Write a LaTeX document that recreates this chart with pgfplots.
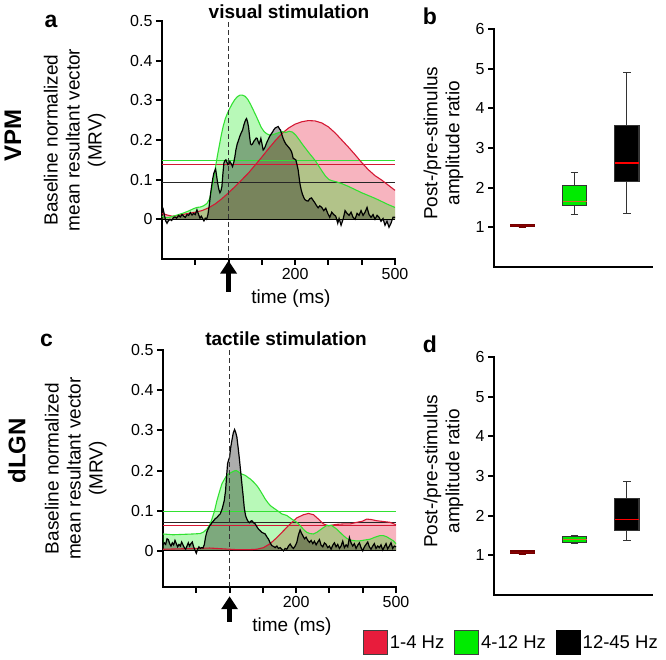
\documentclass[border=0pt]{standalone}
\usepackage{fontspec}
\setmainfont{Liberation Sans}
\usepackage{pgfplots}
\pgfplotsset{compat=1.18}
\usepackage{pgfplotstable}
\usepgfplotslibrary{statistics}
\usetikzlibrary{arrows.meta}

\definecolor{hzred}{RGB}{232,28,60}
\definecolor{hzredline}{RGB}{212,24,52}
\definecolor{hzgreen}{RGB}{0,235,0}
\definecolor{hzgreenline}{RGB}{50,225,50}
\definecolor{medbrown}{RGB}{200,110,40}

% ---- panel a (VPM, visual stimulation) ----
\pgfplotstableread{
t v
-200 0.015
-185 0.011
-170 0.008
-155 0.009
-140 0.012
-120 0.015
-100 0.018
-80 0.022
-60 0.029
-40 0.039
-20 0.052
0 0.067
20 0.083
40 0.100
60 0.117
80 0.137
100 0.157
120 0.178
140 0.198
160 0.216
180 0.230
200 0.240
220 0.246
240 0.249
260 0.248
280 0.243
300 0.233
320 0.218
340 0.200
360 0.182
380 0.163
400 0.143
420 0.125
440 0.110
460 0.099
480 0.086
500 0.073
}\aRed

\pgfplotstableread{
t v
-200 0.008
-190 0.004
-180 0.005
-165 0.008
-150 0.012
-135 0.016
-120 0.021
-105 0.027
-95 0.030
-85 0.031
-75 0.034
-65 0.040
-58 0.050
-52 0.068
-46 0.095
-40 0.128
-34 0.158
-28 0.185
-22 0.212
-16 0.235
-10 0.253
-4 0.266
2 0.277
10 0.290
18 0.301
26 0.309
34 0.313
42 0.313
50 0.310
58 0.302
66 0.290
74 0.276
82 0.262
90 0.247
98 0.232
106 0.222
114 0.216
122 0.213
132 0.213
142 0.216
152 0.219
162 0.221
172 0.219
182 0.222
192 0.220
202 0.212
212 0.201
222 0.189
232 0.178
242 0.167
252 0.157
262 0.146
272 0.133
282 0.120
292 0.108
302 0.100
312 0.097
322 0.095
340 0.090
360 0.083
380 0.075
400 0.067
420 0.060
440 0.053
460 0.045
480 0.037
500 0.030
}\aGreen

\pgfplotstableread{
t v
-200 0.030
-197 0.028
-193 0.012
-189 -0.004
-185 -0.010
-181 -0.004
-176 0.000
-171 -0.003
-166 0.004
-161 0.006
-156 0.003
-150 0.010
-145 0.006
-140 0.012
-135 0.008
-130 0.005
-125 0.012
-120 0.010
-115 0.017
-110 0.011
-105 0.015
-100 0.012
-95 0.024
-90 0.012
-86 0.003
-82 0.008
-78 0.002
-74 -0.004
-70 0.003
-66 0.000
-62 0.012
-58 0.035
-54 0.065
-51 0.083
-47 0.105
-44 0.117
-39 0.127
-36 0.110
-33 0.092
-29 0.075
-26 0.067
-23 0.072
-20 0.083
-17 0.115
-14 0.142
-11 0.148
-8 0.150
-5 0.144
-2 0.138
1 0.140
4 0.146
8 0.140
12 0.133
16 0.145
19 0.158
22 0.175
26 0.190
30 0.200
34 0.210
38 0.218
42 0.225
46 0.238
49 0.246
52 0.252
54 0.254
57 0.246
60 0.233
63 0.210
66 0.190
69 0.188
72 0.190
76 0.197
79 0.200
83 0.205
86 0.204
89 0.196
92 0.190
95 0.198
97 0.204
100 0.192
104 0.175
107 0.178
110 0.183
113 0.190
116 0.196
120 0.203
124 0.210
128 0.215
132 0.220
136 0.226
140 0.230
144 0.232
149 0.234
153 0.228
156 0.225
160 0.214
164 0.204
168 0.196
172 0.190
176 0.186
179 0.183
184 0.178
189 0.171
192 0.162
194 0.154
198 0.152
202 0.150
205 0.140
209 0.125
212 0.105
214 0.092
218 0.075
222 0.063
226 0.055
229 0.050
234 0.047
239 0.046
244 0.052
249 0.054
254 0.048
259 0.042
264 0.035
269 0.029
274 0.034
280 0.030
286 0.022
292 0.028
298 0.015
304 0.005
310 0.018
316 0.012
322 0.008
328 -0.010
332 0.002
338 -0.015
344 0.000
350 0.022
356 0.015
362 0.010
368 0.018
374 0.005
380 0.000
386 0.015
392 0.010
398 0.022
404 0.010
410 0.018
416 0.030
422 0.012
428 0.005
434 0.012
440 0.000
446 0.010
452 0.005
458 -0.005
464 0.002
470 -0.015
476 -0.005
482 -0.020
488 -0.010
494 0.005
500 0.005
}\aBlack

% ---- panel c (dLGN, tactile stimulation) ----
\pgfplotstableread{
t v
-200 0.004
-150 0.005
-100 0.006
-60 0.007
-20 0.005
20 0.003
60 0.003
82 0.004
102 0.008
122 0.018
142 0.033
162 0.050
182 0.067
202 0.082
222 0.090
237 0.093
252 0.090
267 0.079
282 0.067
297 0.0625
322 0.066
342 0.067
362 0.067
382 0.071
400 0.074
412 0.079
425 0.078
442 0.075
462 0.073
482 0.071
500 0.065
}\cRed

\pgfplotstableread{
t v
-200 0.042
-170 0.040
-140 0.041
-110 0.042
-88 0.043
-78 0.047
-68 0.054
-60 0.064
-53 0.079
-45 0.100
-38 0.125
-30 0.148
-23 0.167
-15 0.179
-8 0.188
0 0.193
7 0.196
14 0.199
20 0.200
26 0.197
32 0.193
40 0.190
47 0.188
55 0.183
62 0.179
70 0.173
77 0.167
85 0.159
92 0.150
100 0.139
107 0.129
115 0.120
122 0.113
130 0.108
137 0.104
147 0.098
157 0.092
172 0.088
187 0.079
202 0.071
210 0.065
217 0.058
225 0.051
232 0.046
242 0.043
252 0.042
262 0.046
272 0.052
282 0.058
292 0.063
307 0.063
322 0.054
332 0.046
342 0.038
352 0.031
362 0.027
377 0.025
392 0.025
407 0.027
422 0.029
437 0.034
452 0.038
462 0.038
472 0.035
482 0.030
492 0.025
500 0.018
}\cGreen

\pgfplotstableread{
t v
-200 0.015
-196 0.020
-192 0.016
-188 0.030
-184 0.028
-180 0.018
-176 0.012
-172 0.020
-168 0.015
-164 0.026
-160 0.018
-156 0.010
-152 0.016
-148 0.012
-144 0.022
-140 0.015
-136 0.008
-132 0.004
-128 0.012
-124 0.020
-120 0.012
-116 0.018
-112 0.022
-108 0.010
-104 0.002
-100 -0.006
-96 0.004
-92 0.010
-88 0.006
-84 0.008
-80 0.007
-76 0.015
-72 0.035
-68 0.048
-64 0.055
-60 0.062
-56 0.066
-53 0.070
-48 0.075
-43 0.080
-38 0.083
-33 0.088
-28 0.092
-22 0.105
-16 0.125
-12 0.150
-9 0.185
-6 0.217
-3 0.226
0 0.233
3 0.255
7 0.275
11 0.293
15 0.302
18 0.296
22 0.283
26 0.255
30 0.225
34 0.192
37 0.167
41 0.135
44 0.108
48 0.088
52 0.079
56 0.073
60 0.070
64 0.074
67 0.075
72 0.070
77 0.067
82 0.060
87 0.054
92 0.050
97 0.046
102 0.044
107 0.042
112 0.035
117 0.029
122 0.020
127 0.013
132 0.011
137 0.008
142 0.012
147 0.006
152 0.008
157 0.004
162 0.000
167 0.006
172 0.004
177 0.012
182 0.017
187 0.010
192 0.006
197 0.012
202 0.021
207 0.040
212 0.052
216 0.044
220 0.038
225 0.030
230 0.034
235 0.026
240 0.021
245 0.026
250 0.018
255 0.024
260 0.015
265 0.022
270 0.028
275 0.014
280 0.010
285 0.020
290 0.016
295 0.008
300 0.012
305 0.004
310 0.014
315 0.020
320 0.010
325 0.016
330 0.006
335 0.012
340 0.024
345 0.008
350 0.015
355 0.010
360 0.033
365 0.020
370 0.012
375 0.018
380 0.006
385 0.014
390 0.020
395 0.008
400 0.000
405 0.010
410 0.016
415 0.022
420 0.010
425 0.004
430 0.012
435 0.018
440 0.006
445 0.012
450 0.008
455 0.015
460 0.002
465 0.010
470 0.018
475 0.005
480 0.012
485 0.020
490 0.006
495 0.012
500 0.010
}\cBlack

\pgfplotsset{
  common/.style={
    scale only axis,
    axis lines*=left,
    axis line style={line width=2.4pt, line cap=rect},
    tick align=outside,
    major tick length=6pt,
    tick style={black, line width=2pt},
    tick label style={font=\fontsize{16}{18}\selectfont},
    /pgf/number format/assume math mode=true,
    label style={font=\fontsize{19}{22}\selectfont, align=center},
    clip=false,
  },
  mrv/.style={
    common,
    width=233pt,
    xmin=-200, xmax=500, ymax=0.5,
    xtick={-100,0,100,200,300,400,500},
    xticklabels={,,,200,,,500},
    ytick={0,0.1,0.2,0.3,0.4,0.5},
    yticklabels={0,0.1,0.2,0.3,0.4,0.5},
    ylabel={Baseline normalized\\mean resultant vector\\(MRV)},
    ylabel style={at={(axis description cs:-0.375,0.5)}, anchor=center},
    xlabel={time (ms)},
    xlabel style={at={(axis description cs:0.553,-0.168)}, anchor=center},
    every axis title/.style={anchor=center, font=\bfseries\fontsize{19}{22}\selectfont},
  },
  ratio/.style={
    common,
    width=158pt, height=238pt,
    xmin=0.46, xmax=3.48, ymin=0, ymax=6,
    xtick=\empty,
    ytick={1,2,3,4,5,6},
    ylabel={Post-/pre-stimulus\\amplitude ratio},
    ylabel style={at={(axis description cs:-0.32,0.52)}, anchor=center},
    boxplot/draw direction=y,
  },
  fillR/.style={fill=hzred, fill opacity=0.33, draw=none},
  fillG/.style={fill=hzgreen, fill opacity=0.28, draw=none},
  fillK/.style={fill=black, fill opacity=0.32, draw=none},
  lineR/.style={hzredline, line width=1.1pt},
  lineG/.style={hzgreenline, line width=1.1pt},
  lineK/.style={black, line width=1.2pt},
  box/.style={forget plot, draw=black!80, line width=1.2pt},
}

\begin{document}
\begin{tikzpicture}[font=\fontsize{19}{22}\selectfont]
\useasboundingbox (0pt,0pt) rectangle (666pt,660pt);

% ---------------- a ----------------
\begin{axis}[mrv, at={(162pt,401pt)}, anchor=south west, height=238pt, ymin=-0.1,
  title={visual stimulation},
  title style={at={(axis description cs:0.545,1.038)}}]
\addplot[fillR] table {\aRed} \closedcycle;
\addplot[fillG] table {\aGreen} \closedcycle;
\addplot[fillK] table {\aBlack} \closedcycle;
\addplot[black, line width=1pt] coordinates {(-200,0) (500,0)};
\addplot[hzgreenline, line width=1pt] coordinates {(-200,0.148) (500,0.148)};
\addplot[hzredline, line width=1pt] coordinates {(-200,0.139) (500,0.139)};
\addplot[black!85, line width=0.9pt] coordinates {(-200,0.094) (500,0.094)};
\addplot[lineR] table {\aRed};
\addplot[lineG] table {\aGreen};
\addplot[lineK] table {\aBlack};
\addplot[black!80, line width=1.2pt, dash pattern=on 5pt off 3pt] coordinates {(0,-0.1) (0,0.5)};
\draw[line width=4.5pt, -{Triangle[length=13pt,width=16pt]}] (axis cs:0,-0.183) -- (axis cs:0,-0.104);
\node[font=\bfseries\fontsize{23}{25}\selectfont] at (axis description cs:-0.476,1.0) {a};
\node[rotate=90, font=\bfseries\fontsize{24}{26}\selectfont] at (axis description cs:-0.64,0.52) {VPM};
\end{axis}

% ---------------- b ----------------
\begin{axis}[ratio, at={(494pt,393pt)}, anchor=south west]
\addplot[box, fill=hzred, draw=red!45!black, boxplot prepared={draw position=1, median=1.05, lower quartile=1.03, upper quartile=1.07, lower whisker=1.0, upper whisker=1.08, box extend=0.46, whisker extend=0.14, every median/.style={draw=red!55!black, line width=1.2pt}}] coordinates {};
\addplot[box, fill=hzgreen, boxplot prepared={draw position=2, median=1.65, lower quartile=1.55, upper quartile=2.05, lower whisker=1.33, upper whisker=2.38, box extend=0.46, whisker extend=0.14, every median/.style={draw=medbrown, line width=1.3pt}, every whisker/.style={line width=1pt}}] coordinates {};
\addplot[box, fill=black, boxplot prepared={draw position=3, median=2.62, lower quartile=2.15, upper quartile=3.57, lower whisker=1.35, upper whisker=4.9, box extend=0.46, whisker extend=0.14, every median/.style={draw=red, line width=1.2pt}, every whisker/.style={line width=1pt}}] coordinates {};
\node[font=\bfseries\fontsize{23}{25}\selectfont] at (axis description cs:-0.405,1.055) {b};
\end{axis}

% ---------------- c ----------------
\begin{axis}[mrv, at={(163pt,73pt)}, anchor=south west, height=237pt, ymin=-0.09,
  title={tactile stimulation},
  title style={at={(axis description cs:0.528,1.046)}}]
\addplot[fillR] table {\cRed} \closedcycle;
\addplot[fillG] table {\cGreen} \closedcycle;
\addplot[fillK] table {\cBlack} \closedcycle;
\addplot[black, line width=1pt] coordinates {(-200,0) (500,0)};
\addplot[hzgreenline, line width=1pt] coordinates {(-200,0.099) (500,0.099)};
\addplot[black!85, line width=0.9pt] coordinates {(-200,0.071) (500,0.071)};
\addplot[hzredline, line width=1pt] coordinates {(-200,0.063) (500,0.063)};
\addplot[lineR] table {\cRed};
\addplot[lineG] table {\cGreen};
\addplot[lineK] table {\cBlack};
\addplot[black!80, line width=1.2pt, dash pattern=on 5pt off 3pt] coordinates {(0,-0.09) (0,0.5)};
\draw[line width=4.5pt, -{Triangle[length=13pt,width=16pt]}] (axis cs:0,-0.177) -- (axis cs:0,-0.113);
\node[font=\bfseries\fontsize{23}{25}\selectfont] at (axis description cs:-0.5,1.042) {c};
\node[rotate=90, font=\bfseries\fontsize{24}{26}\selectfont] at (axis description cs:-0.627,0.574) {dLGN};
\end{axis}

% ---------------- d ----------------
\begin{axis}[ratio, at={(494pt,65pt)}, anchor=south west,
  legend columns=3,
  legend image code/.code={\draw[#1] (0pt,-12pt) rectangle (24pt,12pt);},
  legend style={at={(axis description cs:-0.83,-0.2)}, anchor=west, draw=none, fill=none,
    font=\fontsize{18.5}{22}\selectfont, inner sep=0pt,
    /tikz/every even column/.append style={column sep=8pt}}]
\addplot[box, fill=hzred, draw=red!45!black, boxplot prepared={draw position=1, median=1.08, lower quartile=1.05, upper quartile=1.11, lower whisker=1.03, upper whisker=1.13, box extend=0.46, whisker extend=0.14, every median/.style={draw=red!55!black, line width=1.2pt}}] coordinates {};
\addplot[box, fill=hzgreen, boxplot prepared={draw position=2, median=1.40, lower quartile=1.33, upper quartile=1.47, lower whisker=1.30, upper whisker=1.50, box extend=0.46, whisker extend=0.14, every median/.style={draw=medbrown, line width=1.2pt}}] coordinates {};
\addplot[box, fill=black, boxplot prepared={draw position=3, median=1.90, lower quartile=1.62, upper quartile=2.43, lower whisker=1.37, upper whisker=2.85, box extend=0.46, whisker extend=0.14, every median/.style={draw=red, line width=1.2pt}, every whisker/.style={line width=1pt}}] coordinates {};
\addlegendimage{fill=hzred, draw=black!75, line width=0.8pt}
\addlegendentry{1-4 Hz}
\addlegendimage{fill=hzgreen, draw=black!75, line width=0.8pt}
\addlegendentry{4-12 Hz}
\addlegendimage{fill=black, draw=black, line width=0.8pt}
\addlegendentry{12-45 Hz}
\node[font=\bfseries\fontsize{23}{25}\selectfont] at (axis description cs:-0.405,1.055) {d};
\end{axis}
\end{tikzpicture}
\end{document}
